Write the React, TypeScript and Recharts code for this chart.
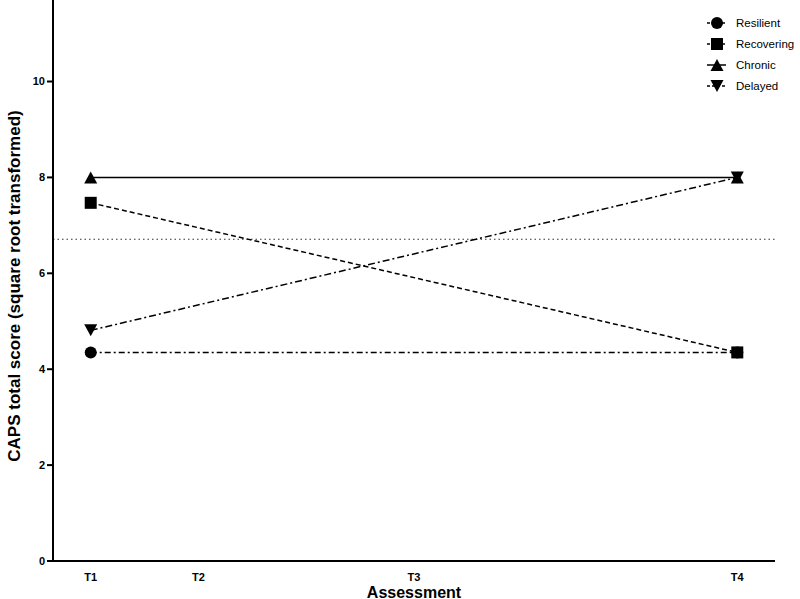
import React from 'react';
import { LineChart, Line, XAxis, YAxis, ReferenceLine } from 'recharts';

const timepoints = [0, 2, 6, 12];
const tickLabels = ['T1', 'T2', 'T3', 'T4'];
const seriesTimes = [0, 12];
const resilient = [4.35, 4.35];
const recovering = [7.47, 4.35];
const chronic = [8.0, 8.0];
const delayed = [4.81, 8.0];
const cutoff = 6.71;
const yTicks = [0, 2, 4, 6, 8, 10];

const series = [
  { key: 'resilient', name: 'Resilient', values: resilient, shape: 'circle', dash: '6 3 2 3' },
  { key: 'recovering', name: 'Recovering', values: recovering, shape: 'square', dash: '5 3' },
  { key: 'chronic', name: 'Chronic', values: chronic, shape: 'triangle', dash: undefined },
  { key: 'delayed', name: 'Delayed', values: delayed, shape: 'triangleDown', dash: '7 3 2 3' },
];

const data = seriesTimes.map((t, i) => {
  const row: any = { t };
  series.forEach((s) => (row[s.key] = s.values[i]));
  return row;
});

const FONT = '"Liberation Sans", Arial, Helvetica, sans-serif';

function Marker({ shape, cx, cy, size = 12 }: { shape: string; cx: number; cy: number; size?: number }) {
  const h = size / 2;
  if (shape === 'circle') return <circle cx={cx} cy={cy} r={h} fill="#000" />;
  if (shape === 'square') return <rect x={cx - h} y={cy - h} width={size} height={size} fill="#000" />;
  if (shape === 'triangle')
    return <polygon points={`${cx - h - 0.5},${cy + h} ${cx + h + 0.5},${cy + h} ${cx},${cy - h}`} fill="#000" />;
  return <polygon points={`${cx - h - 0.5},${cy - h} ${cx + h + 0.5},${cy - h} ${cx},${cy + h}`} fill="#000" />;
}

function LegendBox() {
  return (
    <svg width={99} height={90} style={{ position: 'absolute', top: 12, left: 701, overflow: 'visible' }}>
      {series.map((s, i) => {
        const y = 11 + i * 21;
        return (
          <g key={s.key}>
            <line x1={6} x2={25} y1={y} y2={y} stroke="#000" strokeWidth={1.5} strokeDasharray={s.dash ? '3 2' : undefined} />
            <Marker shape={s.shape} cx={16} cy={y} size={12} />
            <text x={35} y={y + 4} fontSize={11.5} fontFamily={FONT} fill="#000">
              {s.name}
            </text>
          </g>
        );
      })}
    </svg>
  );
}

export default function App() {
  return (
    <div style={{ position: 'absolute', top: 0, left: 0, width: 800, height: 599, overflow: 'hidden' }}>
      <LineChart width={800} height={599} data={data} margin={{ top: 0, right: 25, bottom: 0, left: 0 }}>
        <XAxis
          dataKey="t"
          type="number"
          domain={[-0.7, 12.7]}
          ticks={timepoints}
          tickFormatter={(v: number) => tickLabels[timepoints.indexOf(v)]}
          tickLine={false}
          axisLine={{ stroke: '#000', strokeWidth: 2 }}
          height={38}
          tick={{ fill: '#000', fontSize: 11, fontWeight: 700, fontFamily: FONT }}
          tickMargin={6}
          label={{
            value: 'Assessment',
            position: 'insideBottom',
            offset: 1,
            style: { fill: '#000', fontSize: 16, fontWeight: 700, fontFamily: FONT },
          }}
        />
        <YAxis
          type="number"
          domain={[0, 11.7]}
          ticks={yTicks}
          width={53}
          axisLine={{ stroke: '#000', strokeWidth: 2 }}
          tickLine={{ stroke: '#000', strokeWidth: 2 }}
          tickSize={6}
          tick={{ fill: '#000', fontSize: 11, fontWeight: 700, fontFamily: FONT }}
          label={{
            content: () => (
              <text
                x={20}
                y={286}
                transform="rotate(-90 20 286)"
                textAnchor="middle"
                fontSize={17}
                fontWeight={700}
                fontFamily={FONT}
                fill="#000"
              >
                CAPS total score (square root transformed)
              </text>
            ),
          }}
        />
        <ReferenceLine y={cutoff} stroke="#333" strokeWidth={1.2} strokeDasharray="1.5 3" />
        {series.map((s) => (
          <Line
            key={s.key}
            dataKey={s.key}
            name={s.name}
            stroke="#000"
            strokeWidth={1.5}
            strokeDasharray={s.dash}
            isAnimationActive={false}
            dot={(p: any) => <Marker key={`${s.key}-${p.index}`} shape={s.shape} cx={p.cx} cy={p.cy} />}
            activeDot={false}
          />
        ))}
      </LineChart>
      <LegendBox />
    </div>
  );
}
